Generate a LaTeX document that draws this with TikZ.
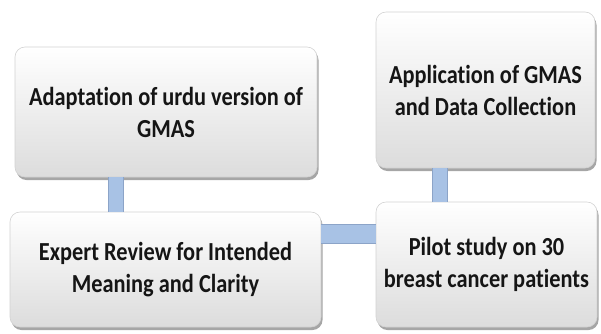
\documentclass[tikz,border=0pt]{standalone}
\usepackage{fontspec}
\newfontfamily\boxfont{Carlito}[FakeStretch=0.86, Ligatures={NoCommon}]
\usetikzlibrary{shadows}
\definecolor{connfill}{HTML}{A8C2E5}
\definecolor{connedge}{HTML}{8CA4C8}
\definecolor{boxline}{HTML}{D2D2D2}
\definecolor{boxbottom}{HTML}{DCDCDC}
\definecolor{txt}{HTML}{151515}
\tikzset{
  stagebox/.style={rounded corners=10pt, draw=boxline, line width=0.6pt,
    top color=white, bottom color=boxbottom,
    drop shadow={shadow xshift=1.5pt, shadow yshift=-3pt, fill=black, opacity=0.35},
    align=center, text=txt, inner sep=0pt,
    font=\boxfont\bfseries\fontsize{26}{32}\selectfont},
  vconn/.style={draw=connedge, line width=1pt, double=connfill, double distance=14pt},
  hconn/.style={draw=connedge, line width=1pt, double=connfill, double distance=18pt},
}
\begin{document}
\begin{tikzpicture}[x=1pt,y=-1pt]
\useasboundingbox (0,0) rectangle (601,333);
\fill[white] (0,0) rectangle (601,333);
% connector anchors
\coordinate (lx) at (115.5,0);
\coordinate (rx) at (439.5,0);
\coordinate (hy) at (0,234);
\path
 node[stagebox, minimum width=302pt, minimum height=130pt] (adapt) at (166,112) {Adaptation of urdu version of\\GMAS}
 node[stagebox, minimum width=219pt, minimum height=156pt] (apply) at (485.5,90) {Application of GMAS\\and Data Collection}
 node[stagebox, minimum width=311pt, minimum height=115pt] (expert) at (165.5,269.5) {Expert Review for Intended\\Meaning and Clarity}
 node[stagebox, minimum width=221pt, minimum height=125pt] (pilot) at (486.5,264.5) {Pilot study on 30\\breast cancer patients};
\draw[vconn] (adapt.south -| lx) -- (expert.north -| lx);
\draw[vconn] (apply.south -| rx) -- (pilot.north -| rx);
\draw[hconn] (expert.east |- hy) -- (pilot.west |- hy);
\end{tikzpicture}
\end{document}
